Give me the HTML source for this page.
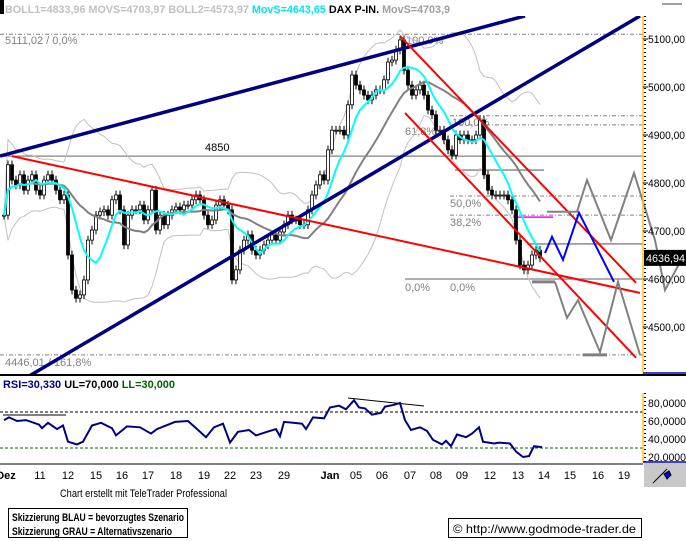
<!DOCTYPE html>
<html><head><meta charset="utf-8">
<style>
html,body{margin:0;padding:0;background:#fff;}
body{width:686px;height:541px;overflow:hidden;position:relative;font-family:"Liberation Sans",Arial,sans-serif;}
svg{position:absolute;left:0;top:0;}
</style></head>
<body>
<svg id="chart" width="686" height="541" xmlns="http://www.w3.org/2000/svg" font-family="Liberation Sans, Arial, sans-serif">
  <defs>
    <clipPath id="plotClip"><rect x="0" y="16" width="643" height="358"/></clipPath>
  </defs>
  <rect x="0" y="0" width="4" height="14" fill="#000"/>
  <rect x="662" y="3" width="20" height="2" fill="#a0a0a0"/>
  <text x="5" y="13" font-size="11" font-weight="bold" textLength="445" lengthAdjust="spacingAndGlyphs"><tspan fill="#c0c0c0">BOLL1=4833,96 MOVS=4703,97 BOLL2=4573,97 </tspan><tspan fill="#00e5ee">MovS=4643,65 </tspan><tspan fill="#000">DAX P-IN. </tspan><tspan fill="#a0a0a0">MovS=4703,9</tspan></text>
  <g id="levels" clip-path="url(#plotClip)"></g>
  <g id="bands" clip-path="url(#plotClip)"></g>
  <g id="candles" clip-path="url(#plotClip)"></g>
  <g id="mas" clip-path="url(#plotClip)"></g>
  <g id="trend" clip-path="url(#plotClip)"></g>
  <g id="scen"></g>
  <g id="yaxis"></g>
  <line x1="0" y1="375" x2="686" y2="375" stroke="#000" stroke-width="2"/>
  <text x="3" y="388" font-size="11" font-weight="bold" textLength="172" lengthAdjust="spacingAndGlyphs"><tspan fill="#000080">RSI=30,330 </tspan><tspan fill="#000">UL=70,000 </tspan><tspan fill="#006400">LL=30,000</tspan></text>
  <g id="rsi"></g>
  <g id="xaxis"></g>
  <rect x="644" y="463" width="42" height="24" fill="#c8c8c8"/>
  <path d="M653 483 L667 469 M664 474 l5 -3 l2 4 l-4 4 z" stroke="#000" fill="#0000cc" stroke-width="1"/>
  <text x="60" y="497" font-size="11" fill="#000" textLength="167" lengthAdjust="spacingAndGlyphs">Chart erstellt mit TeleTrader Professional</text>
  <g>
    <rect x="8.5" y="508.5" width="179" height="29" fill="#fff" stroke="#000"/>
    <text x="12" y="521" font-size="11" font-weight="bold" textLength="172" lengthAdjust="spacingAndGlyphs">Skizzierung BLAU = bevorzugtes Szenario</text>
    <text x="12" y="535" font-size="11" font-weight="bold" textLength="160" lengthAdjust="spacingAndGlyphs">Skizzierung GRAU = Alternativszenario</text>
  </g>
  <g>
    <rect x="448.5" y="518.5" width="193" height="19" fill="#fff" stroke="#000"/>
    <text x="453" y="533" font-size="12" textLength="183" lengthAdjust="spacingAndGlyphs">© http://www.godmode-trader.de</text>
  </g>
</svg>
<script>
const closes=[4733,4838,4806,4796,4817,4785,4806,4817,4785,4775,4806,4817,4806,4785,4765,4775,4650,4577,4560,4567,4598,4681,4702,4733,4740,4744,4733,4765,4775,4744,4671,4733,4744,4744,4754,4723,4744,4785,4702,4733,4713,4733,4744,4750,4744,4754,4754,4765,4775,4765,4733,4713,4723,4754,4765,4754,4744,4598,4619,4660,4681,4692,4660,4650,4660,4671,4681,4692,4681,4698,4713,4733,4723,4723,4713,4713,4744,4775,4796,4817,4806,4869,4910,4910,4910,4900,4963,5025,5004,4994,4983,4973,4983,4994,4994,5015,5052,5056,5077,5098,5035,5004,4983,4994,5004,4983,4952,4942,4910,4910,4890,4869,4858,4900,4890,4900,4890,4890,4900,4931,4817,4785,4775,4775,4775,4775,4765,4744,4681,4629,4619,4629,4650,4660,4644];
const yTicks=[5100,5000,4900,4800,4700,4600,4500];
const yTickLabels=["5100,00","5000,00","4900,00","4800,00","4700,00","4600,00","4500,00"];
const dateLabels=["Dez","11","12","15","16","17","18","19","22","23","29","Jan","05","06","07","08","09","12","13","14","15","16","19"];
const dateT=[0.5,9,16,23,29.5,36,43,50,56.5,63,70,81.5,88,94.5,101.5,108,114.5,121.5,128.5,135,141.5,148.5,155];
const rsiT=[0,1.25,3.25,5.5,8.75,9.5,11,13.25,14.75,16,18.25,19.75,22,24.25,27,28,30.75,34,36.75,38.25,42.75,46,47.75,50.5,52.5,54.75,56.5,58.5,61.25,63,65.75,68,69,70,72.25,74.5,75.5,77.25,80,81.5,83.75,85.5,87.5,88.75,90.25,92,94.25,95.25,97.5,99,100.25,101.75,104,105.75,107.25,109.5,110.5,111.75,113.25,115.5,117,118.75,119.75,122.5,123.75,126.5,128,129.75,131.25,132.5,134.5];
const rsiV=[61,64,60,61,56,52,58,51,55,37,34,37,55,58,52,44,54,53,46,51,59,60,53,42,53,57,36,48,50,44,48,51,43,59,58,57,51,64,63,75,77,73,83,75,74,67,69,76,78,80,61,50,53,49,39,34,38,32,45,42,46,53,37,35,36,35,26,20,21,32,31];
const rsiTicks=[80,60,40,20];
const rsiTickLabels=["80,0000","60,0000","40,0000","20,0000"];
const rsiLevels=[70,30];
const levelPrices=[5110,4940,4921,4773,4733,4442];
const levelStartT=[-1,111.5,111.5,111.5,111.5,-1];
const solidLevelPrices=[4856,4827,4673,4600];
const solidLevelStartT=[-1,112.75,130.75,100.25];
const solidLevelEndT=[160,135,160,160];
const navyLines=[[-1,4856,130.25,5148],[0,4367,159,5148]];
const redLines=[[2,4856,159,4571],[99,5106,158,4592],[100.25,4946,158,4436]];
const grayUpT=[135.75,143.25,145.75,151.75,157.5,162.75,165.25,169];
const grayUpP=[4740,4740,4806,4681,4821,4681,4577,4635];
const grayLoT=[137.75,140.75,143.5,149,153.5,159];
const grayLoP=[4594,4519,4556,4448,4594,4442];
const blueT=[135.25,137,139.75,143.75,152.5];
const blueP=[4654,4688,4640,4738,4594];

const NS="http://www.w3.org/2000/svg";
const X=t=>4+t*4;
const Y=p=>39+(5100-p)*0.48;
const RY=v=>403+(80-v)*0.9;
function mk(tag,attrs,parent){const e=document.createElementNS(NS,tag);for(const k in attrs)e.setAttribute(k,attrs[k]);document.getElementById(parent).appendChild(e);return e;}

levelPrices.forEach((p,i)=>{const e=mk('line',{x1:X(levelStartT[i]),x2:643,y1:Y(p),y2:Y(p),stroke:'#808080','stroke-dasharray':'4,2,1,2','stroke-width':1},'levels');

});
solidLevelPrices.forEach((p,i)=>{const e=mk('line',{x1:X(solidLevelStartT[i]),x2:X(solidLevelEndT[i]),y1:Y(p),y2:Y(p),stroke:'#808080','stroke-width':1.3},'levels');

});
[[132,137.75,4594],[144.75,150.75,4442]].forEach(s=>{const e=mk('line',{x1:X(s[0]),x2:X(s[1]),y1:Y(s[2]),y2:Y(s[2]),stroke:'#808080','stroke-width':3},'levels');

});
{const e=mk('line',{x1:X(127.25),x2:X(137.25),y1:Y(4729),y2:Y(4729),stroke:'#ff00ff','stroke-width':1.5},'levels');

}
const lvlTexts=[["5111,02 / 0,0%",5,Y(5110)+10],["100,0%",406,Y(5110)+10],["4850",205,Y(4856)-5],["100,0%",452,Y(4940)+10],["61,8%",405,Y(4921)+10],["50,0%",450,Y(4773)+11],["38,2%",450,Y(4733)+11],["0,0%",405,Y(4600)+12],["0,0%",450,Y(4600)+12],["4446,01 / 161,8%",5,Y(4442)+11]];
lvlTexts.forEach(a=>{const e=mk('text',{x:a[1],y:a[2],'font-size':11,fill:a[0]=="4850"?'#000':'#808080'},'levels');e.textContent=a[0];

});

function sma(n,i){let s=0,c=0;for(let k=Math.max(0,i-n+1);k<=i;k++){s+=closes[k];c++;}return s/c;}
function sd(n,i){const m=sma(n,i);let s=0,c=0;for(let k=Math.max(0,i-n+1);k<=i;k++){s+=(closes[k]-m)**2;c++;}return Math.sqrt(s/c);}
const up=[],lo=[],ma8=[],ma20=[];
closes.forEach((c,i)=>{const m=sma(20,i),d=sd(20,i);up.push(X(i)+','+Y(m+2*d));lo.push(X(i)+','+Y(m-2*d));ma8.push(X(i)+','+Y(sma(8,i)));ma20.push(X(i)+','+Y(m));});
[[up,'upper-bollinger'],[lo,'lower-bollinger']].forEach(a=>{const e=mk('polyline',{points:a[0].join(' '),fill:'none',stroke:'#c0c0c0','stroke-width':1},'bands');

});

closes.forEach((c,i)=>{const o=i?closes[i-1]:c;const hi=Math.max(o,c)+9,l=Math.min(o,c)-9;const x=X(i);
const w=mk('line',{x1:x,x2:x,y1:Y(hi),y2:Y(l),stroke:'#000','stroke-width':1},'candles');


const top=Y(Math.max(o,c)),h=Math.max(1,Math.abs(Y(o)-Y(c)));
const b=mk('rect',{x:x-1.5,y:top,width:3,height:h,fill:c>=o?'#fff':'#000',stroke:'#000','stroke-width':0.8},'candles');

});

{const e=mk('polyline',{points:ma20.join(' '),fill:'none',stroke:'#808080','stroke-width':2},'mas');

}
{const e=mk('polyline',{points:ma8.join(' '),fill:'none',stroke:'#00ffff','stroke-width':2},'mas');

}

navyLines.forEach(l=>{const e=mk('line',{x1:X(l[0]),y1:Y(l[1]),x2:X(l[2]),y2:Y(l[3]),stroke:'#000080','stroke-width':3.5},'trend');

});
redLines.forEach(l=>{const e=mk('line',{x1:X(l[0]),y1:Y(l[1]),x2:X(l[2]),y2:Y(l[3]),stroke:'#ff0000','stroke-width':2},'trend');

});

function pl(ts,ps,col,w,name){const e=mk('polyline',{points:ts.map((t,i)=>X(t)+','+Y(ps[i])).join(' '),fill:'none',stroke:col,'stroke-width':w},'scen');

}
pl(grayUpT,grayUpP,'#808080',2,'gray-scenario-upper');
pl([137.75].concat(grayLoT),[4594].concat(grayLoP),'#808080',2,'gray-scenario-lower');
pl(blueT,blueP,'#0000ff',2,'blue-scenario');

{const e=mk('line',{x1:643,y1:16,x2:643,y2:374,stroke:'#ffc020','stroke-width':1.5},'yaxis');

}
{const e=mk('line',{x1:645,y1:16,x2:645,y2:372,stroke:'#000','stroke-width':2,'stroke-dasharray':'1,3'},'yaxis');

}
{const e=mk('line',{x1:643,y1:373,x2:686,y2:373,stroke:'#0000cc','stroke-width':1.5},'yaxis');

}
yTicks.forEach((p,i)=>{const t=mk('line',{x1:643,x2:648,y1:Y(p),y2:Y(p),stroke:'#000'},'yaxis');


const e=mk('text',{x:648,y:Y(p)+4,'font-size':11,fill:'#000',textLength:37,lengthAdjust:'spacingAndGlyphs'},'yaxis');e.textContent=yTickLabels[i];

});
{const lp=closes[closes.length-1];const r=mk('rect',{x:644,y:Y(lp)-8,width:42,height:16,fill:'#000'},'yaxis');


const e=mk('text',{x:646,y:Y(lp)+4,'font-size':11,fill:'#fff',textLength:39,lengthAdjust:'spacingAndGlyphs'},'yaxis');e.textContent='4636,94';

}

rsiLevels.forEach((v,i)=>{const e=mk('line',{x1:0,x2:643,y1:RY(v),y2:RY(v),stroke:i?'#006400':'#000','stroke-dasharray':'3,2','stroke-width':1},'rsi');

});
[[3,415,66,415],[348,398,424,406]].forEach(a=>{const e=mk('line',{x1:a[0],y1:a[1],x2:a[2],y2:a[3],stroke:'#000','stroke-width':1},'rsi');

});
{const e=mk('polyline',{points:rsiT.map((t,i)=>X(t)+','+RY(rsiV[i])).join(' '),fill:'none',stroke:'#000080','stroke-width':2},'rsi');

}
{const e=mk('line',{x1:643,y1:393,x2:643,y2:462,stroke:'#ffc020','stroke-width':1.5},'rsi');

}
{const e=mk('line',{x1:645,y1:393,x2:645,y2:462,stroke:'#000','stroke-width':2,'stroke-dasharray':'1,3'},'rsi');

}
{const e=mk('line',{x1:643,y1:462,x2:686,y2:462,stroke:'#0000cc','stroke-width':1.5},'rsi');

}
rsiTicks.forEach((v,i)=>{const e=mk('text',{x:648,y:RY(v)+4,'font-size':11,fill:'#000',textLength:38,lengthAdjust:'spacingAndGlyphs'},'rsi');e.textContent=rsiTickLabels[i];

});

{const e=mk('line',{x1:0,y1:464,x2:643,y2:464,stroke:'#000','stroke-width':1},'xaxis');

}
dateLabels.forEach((d,i)=>{const e=mk('text',{x:X(dateT[i]),y:479,'font-size':11,'text-anchor':'middle',fill:'#000','font-weight':d=='Jan'||d=='Dez'?'bold':'normal'},'xaxis');e.textContent=d;

});
</script>
</body></html>
